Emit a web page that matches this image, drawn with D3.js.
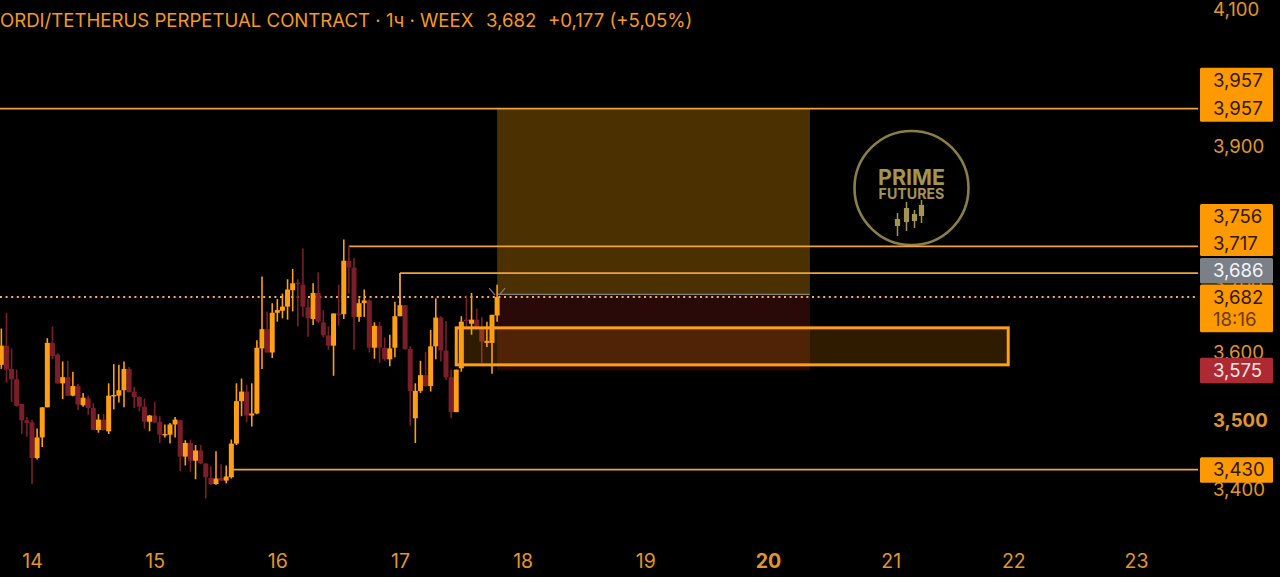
<!DOCTYPE html>
<html><head><meta charset="utf-8">
<script src="https://cdn.jsdelivr.net/npm/d3@7"></script>
<style>html,body{margin:0;padding:0;background:#000;overflow:hidden}svg{display:block}text{font-family:Inter,"Liberation Sans",sans-serif}</style>
</head><body><svg id="c" width="1280" height="577"></svg>
<script>
const opens=[3.583,3.611,3.577,3.562,3.526,3.502,3.499,3.447,3.477,3.521,3.615,3.598,3.556,3.565,3.538,3.552,3.524,3.534,3.520,3.488,3.503,3.486,3.538,3.538,3.546,3.577,3.544,3.536,3.522,3.500,3.509,3.500,3.480,3.481,3.496,3.502,3.449,3.469,3.443,3.458,3.439,3.418,3.409,3.418,3.414,3.419,3.468,3.530,3.544,3.509,3.512,3.607,3.635,3.601,3.659,3.662,3.668,3.692,3.703,3.700,3.667,3.650,3.688,3.645,3.626,3.611,3.658,3.657,3.735,3.725,3.653,3.673,3.677,3.608,3.640,3.608,3.591,3.608,3.654,3.670,3.606,3.505,3.545,3.568,3.552,3.610,3.652,3.604,3.565,3.514,3.578,3.649,3.643,3.649,3.636,3.615,3.615,3.655];
const highs=[3.636,3.659,3.607,3.576,3.526,3.507,3.503,3.490,3.521,3.622,3.639,3.600,3.588,3.589,3.573,3.555,3.542,3.538,3.527,3.511,3.511,3.556,3.584,3.583,3.588,3.580,3.551,3.537,3.534,3.510,3.529,3.508,3.496,3.498,3.507,3.503,3.473,3.474,3.466,3.466,3.439,3.435,3.457,3.438,3.436,3.474,3.556,3.563,3.554,3.556,3.619,3.712,3.661,3.673,3.679,3.687,3.708,3.723,3.708,3.753,3.680,3.702,3.718,3.663,3.639,3.658,3.700,3.766,3.756,3.739,3.680,3.693,3.679,3.645,3.646,3.623,3.627,3.675,3.680,3.670,3.610,3.556,3.589,3.602,3.634,3.680,3.654,3.647,3.576,3.576,3.654,3.684,3.688,3.665,3.653,3.646,3.656,3.700];
const lows=[3.577,3.557,3.529,3.522,3.482,3.478,3.409,3.445,3.463,3.521,3.591,3.555,3.533,3.538,3.537,3.517,3.522,3.510,3.488,3.484,3.487,3.482,3.518,3.528,3.521,3.543,3.520,3.515,3.490,3.486,3.498,3.469,3.477,3.468,3.477,3.428,3.436,3.427,3.416,3.438,3.388,3.408,3.408,3.413,3.410,3.417,3.466,3.508,3.499,3.493,3.511,3.577,3.601,3.593,3.646,3.651,3.649,3.661,3.639,3.653,3.624,3.641,3.644,3.623,3.605,3.567,3.640,3.650,3.687,3.605,3.646,3.653,3.601,3.592,3.586,3.589,3.581,3.594,3.654,3.605,3.494,3.469,3.542,3.551,3.544,3.591,3.588,3.561,3.505,3.514,3.573,3.635,3.627,3.636,3.586,3.609,3.570,3.646];
const closes=[3.611,3.576,3.562,3.523,3.502,3.498,3.447,3.477,3.521,3.615,3.596,3.556,3.565,3.538,3.552,3.525,3.535,3.520,3.488,3.503,3.488,3.538,3.539,3.546,3.577,3.543,3.536,3.522,3.500,3.509,3.499,3.481,3.482,3.496,3.503,3.449,3.469,3.443,3.458,3.439,3.419,3.409,3.417,3.414,3.420,3.468,3.530,3.544,3.509,3.512,3.608,3.635,3.601,3.659,3.663,3.668,3.693,3.702,3.701,3.668,3.651,3.688,3.646,3.626,3.611,3.658,3.657,3.735,3.725,3.653,3.673,3.677,3.608,3.640,3.608,3.591,3.607,3.654,3.670,3.606,3.545,3.545,3.568,3.552,3.610,3.652,3.604,3.565,3.514,3.576,3.646,3.648,3.649,3.636,3.617,3.618,3.656,3.682];
const firstHour=-6;                 // hours relative to the "14" tick
const dayLabels=[14,15,16,17,18,19,20,21,22,23];
const priceTicks=[3.4,3.5,3.6,3.7,3.8,3.9,4.0,4.1];
const levelLines=[{v:3.957,from:-8},{v:3.756,from:62},{v:3.717,from:72},{v:3.430,from:39}];
const priceTags=[
 {lines:["3.957","3.957"],vals:[3.9985,3.957],fill:"#ff9900",ink:"#2f1a00"},
 {lines:["3.756","3.717"],vals:[3.7995,3.7608],fill:"#ff9900",ink:"#2f1a00"},
 {lines:["3.686"],vals:[3.7208],fill:"#7b7f88",ink:"#f4f4f6"},
 {lines:["3.682","18:16"],vals:[3.682,3.6497],fill:"#ff9900",ink:"#2f1a00"},
 {lines:["3.575"],vals:[3.575],fill:"#ad2a33",ink:"#f6e6e6"},
 {lines:["3.430"],vals:[3.430],fill:"#ff9900",ink:"#2f1a00"}];
const title="ORDI/TETHERUS PERPETUAL CONTRACT · 1ч · WEEX";
const quote=["3,682","+0,177 (+5,05%)"];
const logoSticks=[[-14,39,46,33,52],[-5,28,42,22,47],[3,34,41,30,44],[10,25,36,20,39]];

const W=1280,H=577,UP="#ff9f14",DOWN="#7c1e2a",TXT="#e0962a";
const svg=d3.select("#c");
const x=d3.scaleLinear().domain([0,216]).range([32,1136]);
const y=d3.scaleLinear().domain([3.4,4.1]).range([490.2,10.7]);
const idx=d3.range(opens.length);
const hr=i=>firstHour+i;
const comma=s=>s.replace(".",",");

svg.append("rect").attr("width",W).attr("height",H).attr("fill","#000");

// projection zones
const zoneX0=x(hr(97)),zoneX1=x(152.2);
svg.append("rect").attr("x",zoneX0).attr("width",zoneX1-zoneX0).attr("y",y(3.957)).attr("height",y(3.686)-y(3.957)).attr("fill","#4b3002");
svg.append("rect").attr("x",zoneX0).attr("width",zoneX1-zoneX0).attr("y",y(3.686)).attr("height",y(3.575)-y(3.686)).attr("fill","#2a0a08");
svg.append("line").attr("x1",zoneX0).attr("x2",zoneX1).attr("y1",y(3.686)).attr("y2",y(3.686)).attr("stroke","#7b7f88").attr("stroke-width",1.2);

// last-price dotted line
svg.append("line").attr("x1",0).attr("x2",1198).attr("y1",y(3.682)).attr("y2",y(3.682)).attr("stroke","#f5ae55").attr("stroke-width",2).attr("stroke-dasharray","2 3.6");

// logo
const logo=svg.append("g").attr("transform","translate(911.5,188)");
logo.append("circle").attr("r",57).attr("fill","#000").attr("stroke","#8c7f45").attr("stroke-width",2.6);
logo.append("text").attr("y",-3).attr("text-anchor","middle").attr("font-size",21.4).attr("font-weight",700).attr("fill","#a3944f").text("PRIME");
logo.append("text").attr("y",11).attr("text-anchor","middle").attr("font-size",14.2).attr("font-weight",700).attr("fill","#a3944f").text("FUTURES");
logoSticks.forEach(s=>{
 logo.append("line").attr("x1",s[0]).attr("x2",s[0]).attr("y1",s[3]-8).attr("y2",s[4]-4).attr("stroke","#a3944f").attr("stroke-width",1.5);
 logo.append("rect").attr("x",s[0]-2.6).attr("width",5.2).attr("y",s[1]-8).attr("height",s[2]-s[1]).attr("fill","#a3944f");
});

// level lines
const LV="#f0a33a";
svg.append("g").selectAll("line").data(levelLines).join("line")
 .attr("x1",d=>x(d.from)).attr("x2",1198).attr("y1",d=>y(d.v)).attr("y2",d=>y(d.v))
 .attr("stroke",LV).attr("stroke-width",1.8);
svg.append("line").attr("x1",x(72)).attr("x2",x(72)).attr("y1",y(3.717)).attr("y2",y(3.668)).attr("stroke",LV).attr("stroke-width",1.8);

// candles
const col=i=>closes[i]>=opens[i]?UP:DOWN;
const g=svg.append("g");
g.selectAll("line").data(idx).join("line")
 .attr("x1",i=>x(hr(i))).attr("x2",i=>x(hr(i))).attr("y1",i=>y(highs[i])).attr("y2",i=>y(lows[i]))
 .attr("stroke",i=>col(i)).attr("stroke-width",1.6);
g.selectAll("rect").data(idx).join("rect")
 .attr("x",i=>x(hr(i))-2.5).attr("width",5)
 .attr("y",i=>y(Math.max(opens[i],closes[i])))
 .attr("height",i=>Math.max(1.4,Math.abs(y(opens[i])-y(closes[i]))))
 .attr("fill",i=>col(i));

// marker above last candle
const mx=x(hr(97)),my=y(3.682);
[[-1,-1],[1,-1]].forEach(s=>svg.append("line").attr("x1",mx+s[0]*2).attr("y1",my-2).attr("x2",mx+s[0]*8).attr("y2",my-9).attr("stroke","#7b7f88").attr("stroke-width",1.2));

// order box
svg.append("rect").attr("x",x(83)).attr("width",x(191)-x(83)).attr("y",y(3.637)).attr("height",y(3.583)-y(3.637))
 .attr("fill","rgba(255,152,0,0.18)").attr("stroke","#ff9f14").attr("stroke-width",3);

// axes
const xa=d3.axisBottom(x).tickValues(dayLabels.map(d=>(d-14)*24)).tickSize(0).tickFormat(h=>String(14+h/24));
const gx=svg.append("g").attr("transform","translate(0,552)").call(xa);
gx.select(".domain").remove();
gx.selectAll("text").attr("font-size",19.5).attr("fill",TXT).attr("dy",0).attr("y",16).attr("font-weight",h=>h===144?700:400);

const ya=d3.axisRight(y).tickValues(priceTicks).tickSize(0).tickFormat(v=>comma(d3.format(".3f")(v)));
const gy=svg.append("g").attr("transform","translate(1213,-1)").call(ya);
gy.select(".domain").remove();
gy.selectAll("text").attr("x",0).attr("font-size",18.6).attr("fill",TXT).attr("text-anchor","start").attr("font-weight",v=>v===3.5?700:400);

// price tags
const tags=svg.append("g");
priceTags.forEach(t=>{
 const top=y(t.vals[0])-12.5, bot=y(t.vals[t.vals.length-1])+13;
 tags.append("rect").attr("x",1200).attr("width",73).attr("y",top).attr("height",bot-top).attr("rx",1.5).attr("fill",t.fill);
 t.lines.forEach((l,i)=>{
  tags.append("text").attr("x",1213).attr("y",y(t.vals[i])).attr("dy","0.35em").attr("font-size",18.6)
   .attr("fill",l==="18:16"?"#6b3c00":t.ink).text(comma(l));
 });
});

// title
const tt=svg.append("text").attr("x",0).attr("y",27).attr("font-size",18.6).attr("fill","#f49a20");
tt.append("tspan").text(title);
tt.append("tspan").attr("x",486).text(quote[0]);
tt.append("tspan").attr("x",548).text(quote[1]);
</script></body></html>
